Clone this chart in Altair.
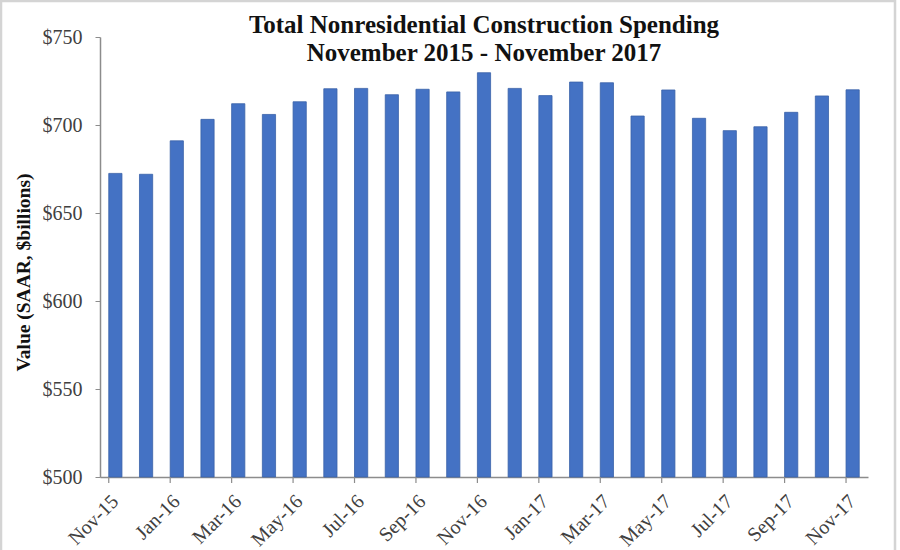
import altair as alt
import pandas as pd

# Monthly nonresidential construction spending, SAAR, $ billions
months = [
    "Nov-15", "Dec-15", "Jan-16", "Feb-16", "Mar-16", "Apr-16", "May-16",
    "Jun-16", "Jul-16", "Aug-16", "Sep-16", "Oct-16", "Nov-16", "Dec-16",
    "Jan-17", "Feb-17", "Mar-17", "Apr-17", "May-17", "Jun-17", "Jul-17",
    "Aug-17", "Sep-17", "Oct-17", "Nov-17",
]
spending = [
    672.5, 672.0, 691.0, 703.2, 712.1, 706.0, 713.2,
    720.6, 720.8, 717.2, 720.3, 718.8, 729.7, 720.8,
    716.7, 724.4, 724.0, 705.1, 719.9, 703.8, 696.8,
    699.0, 707.2, 716.5, 720.0,
]
y_ticks = [500, 550, 600, 650, 700, 750]

labeled_months = months[::2]

df = pd.DataFrame({"month": months, "value": spending})
tick_df = pd.DataFrame({"month": labeled_months})

SERIF = "Liberation Serif"
AXIS_GREY = "#8c8c8c"
LABEL_GREY = "#404040"

x_scale = alt.Scale(domain=months, paddingInner=0.57, paddingOuter=0.285)

bars = alt.Chart(df).mark_bar(
    color="#4472C4", stroke="#3a62a8", strokeWidth=0.8
).encode(
    x=alt.X(
        "month:N",
        sort=months,
        scale=x_scale,
        axis=alt.Axis(
            values=labeled_months,
            title=None,
            ticks=False,
            labelAngle=-45,
            labelAlign="right",
            labelBaseline="middle",
            labelPadding=21,
            labelFont=SERIF,
            labelFontSize=20,
            labelColor=LABEL_GREY,
            domainColor=AXIS_GREY,
            domainWidth=1.5,
        ),
    ),
    y=alt.Y(
        "value:Q",
        scale=alt.Scale(domain=[500, 750], nice=False, zero=False),
        axis=alt.Axis(
            values=y_ticks,
            labelExpr="'$' + datum.value",
            title="Value (SAAR, $billions)",
            titleFont=SERIF,
            titleFontSize=19.5,
            titleFontWeight="bold",
            titleColor="#111111",
            titleX=-67,
            titleY=235,
            titleBaseline="bottom",
            labelFont=SERIF,
            labelFontSize=20,
            labelColor=LABEL_GREY,
            labelPadding=13,
            tickColor=AXIS_GREY,
            tickSize=5,
            domainColor=AXIS_GREY,
            domainWidth=1.5,
            grid=False,
        ),
    ),
    y2=alt.datum(500),
)

# Category-boundary tick marks below the x axis, every other month
ticks = alt.Chart(tick_df).mark_rule(color=AXIS_GREY, strokeWidth=1.2).encode(
    x=alt.X("month:N", sort=months, scale=x_scale, bandPosition=0),
    y=alt.value(440),
    y2=alt.value(446),
)

# Thin light frame around the whole figure
frame = alt.Chart(pd.DataFrame({"k": [0]})).mark_rect(
    fill=None, stroke="#d4d4d4", strokeWidth=2.5, clip=False
).encode(
    x=alt.value(-99),
    x2=alt.value(795),
    y=alt.value(-36),
    y2=alt.value(530),
)

chart = (
    alt.layer(bars, ticks, frame)
    .properties(
        width=768,
        height=440,
        background="white",
        autosize=alt.AutoSizeParams(type="none"),
        padding={"left": 100, "top": 37, "right": 32, "bottom": 73},
        title=alt.TitleParams(
            text=["Total Nonresidential Construction Spending",
                  "November 2015 - November 2017"],
            font=SERIF,
            fontSize=25,
            fontWeight="bold",
            color="#111111",
            anchor="middle",
            frame="group",
            lineHeight=28,
            offset=-66,
        ),
    )
    .configure_view(strokeWidth=0)
)

chart.save("out.html", embed_options={"renderer": "svg", "actions": False})
